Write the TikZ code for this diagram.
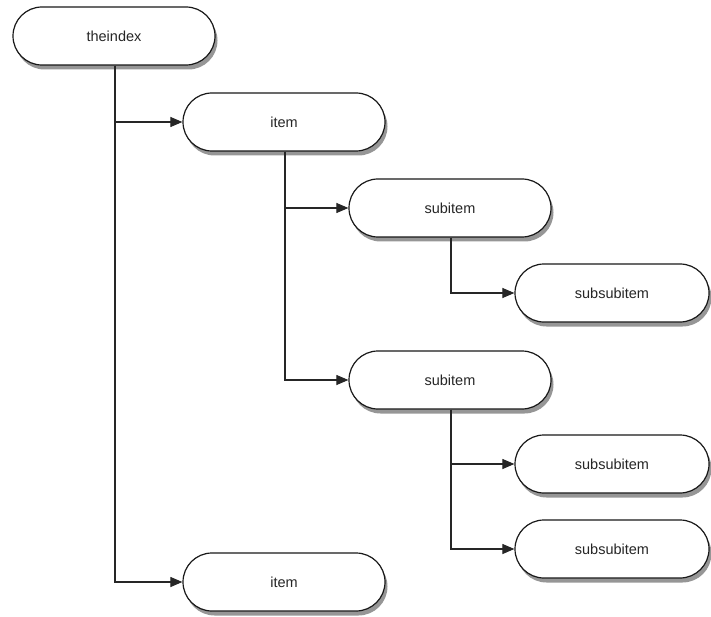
\documentclass[tikz,border=0pt]{standalone}
\usepackage{fontspec}
\setmainfont{Liberation Sans}
\usetikzlibrary{arrows.meta,shadows}
\begin{document}
\begin{tikzpicture}[x=1pt,y=-1pt,
  box/.style={draw=black!90,line width=1.2pt,fill=white,rounded corners=29pt,
    minimum height=58pt,inner sep=0pt,font=\fontsize{14.5}{16}\selectfont,text=black!85,
    drop shadow={shadow xshift=2.5pt,shadow yshift=-4.5pt,opacity=0.55,fill=black!75}},
  wide/.style={box,minimum width=202pt},
  narrow/.style={box,minimum width=194pt},
  conn/.style={line width=1.1pt,draw=black!85,-{Triangle[length=12pt,width=10pt]}}]
\useasboundingbox (0,0) rectangle (711,617);
\node[wide] (root) at (114,36) {theindex};
\node[wide] (i1) at (284,122) {item};
\node[wide] (s1) at (450,208) {subitem};
\node[narrow] (ss1) at (612,293) {subsubitem};
\node[wide] (s2) at (450,380) {subitem};
\node[narrow] (ss2) at (612,464) {subsubitem};
\node[narrow] (ss3) at (612,549) {subsubitem};
\node[wide] (i2) at (284,582) {item};
\draw[conn] (root.south) ++(1,0) |- (i1.west);
\draw[conn] (root.south) ++(1,0) |- (i2.west);
\draw[conn] (i1.south) ++(1,0) |- (s1.west);
\draw[conn] (i1.south) ++(1,0) |- (s2.west);
\draw[conn] (s1.south) ++(1,0) |- (ss1.west);
\draw[conn] (s2.south) ++(1,0) |- (ss2.west);
\draw[conn] (s2.south) ++(1,0) |- (ss3.west);
\end{tikzpicture}
\end{document}
